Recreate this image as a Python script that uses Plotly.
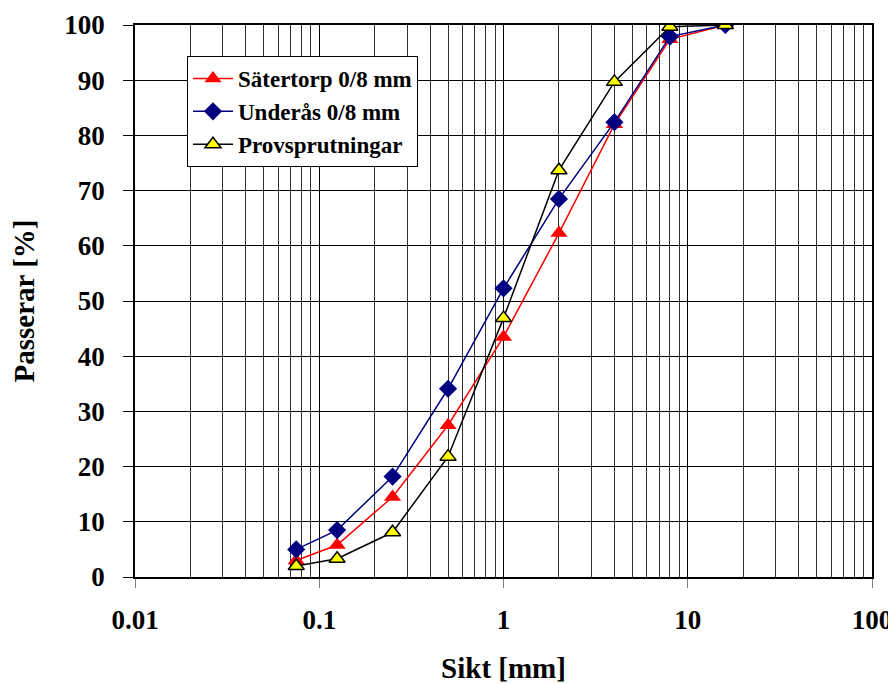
import plotly.graph_objects as go

sikt = [0.075, 0.125, 0.25, 0.5, 1, 2, 4, 8, 16]
satertorp = [3.0, 5.8, 14.5, 27.5, 43.5, 62.3, 82.0, 97.4, 100]
underas = [5.0, 8.5, 18.2, 34.1, 52.3, 68.5, 82.4, 97.9, 100]
provsprutningar = [2.0, 3.3, 8.1, 21.8, 46.9, 73.7, 89.7, 99.7, 100]

x_tickvals = [0.01, 0.1, 1, 10, 100]
x_ticktext = ["0.01", "0.1", "1", "10", "100"]
y_tickvals = list(range(0, 101, 10))

FONT = "Liberation Serif, Times New Roman, serif"

fig = go.Figure()
fig.add_trace(go.Scatter(
    x=sikt, y=satertorp, name="Sätertorp 0/8 mm", mode="lines+markers",
    line=dict(color="#ff0000", width=1.5),
    marker=dict(symbol="triangle-up", size=15, color="#ff0000", line=dict(width=0)),
))
fig.add_trace(go.Scatter(
    x=sikt, y=underas, name="Underås 0/8 mm", mode="lines+markers",
    line=dict(color="#000080", width=1.5),
    marker=dict(symbol="diamond", size=14, color="#000080", line=dict(width=0)),
))
fig.add_trace(go.Scatter(
    x=sikt, y=provsprutningar, name="Provsprutningar", mode="lines+markers",
    line=dict(color="#000000", width=1.5),
    marker=dict(symbol="triangle-up", size=14, color="#ffff00", line=dict(width=1.5, color="#000000")),
))

# The page body has an 8px margin, so the figure is 8px smaller and shifted.
fig.update_layout(
    width=888, height=676,
    margin=dict(l=127, r=24, t=17, b=107),
    paper_bgcolor="white", plot_bgcolor="white",
    font=dict(family=FONT, size=25, color="black"),
    showlegend=True,
    legend=dict(
        x=(187 - 135) / 737, y=(577 - 56) / 552, xanchor="left", yanchor="top",
        bgcolor="white", bordercolor="black", borderwidth=1,
        font=dict(family=FONT, size=23, color="black", weight="bold"),
        tracegroupgap=0, itemwidth=40,
    ),
    xaxis=dict(
        type="log", range=[-2, 2], automargin=False,
        tickvals=x_tickvals, ticktext=x_ticktext,
        tickfont=dict(family=FONT, size=27, weight="bold"),
        ticks="outside", ticklen=9, tickcolor="#808080", tickwidth=1,
        ticklabelstandoff=9,
        showgrid=True, gridcolor="black", gridwidth=1,
        minor=dict(dtick="D1", showgrid=True, gridcolor="#303030", gridwidth=1, ticks=""),
        showline=True, linecolor="black", linewidth=1.5, mirror=True,
        zeroline=False,
        title=dict(text="Sikt [mm]", font=dict(family=FONT, size=29, weight="bold"), standoff=36),
    ),
    yaxis=dict(
        range=[0, 100], tickvals=y_tickvals, automargin=False,
        tickfont=dict(family=FONT, size=27, weight="bold"),
        ticks="outside", ticklen=10, tickcolor="black", tickwidth=1,
        ticklabelstandoff=13,
        showgrid=True, gridcolor="black", gridwidth=1,
        showline=True, linecolor="black", linewidth=1.5, mirror=True,
        zeroline=False,
        title=dict(text="Passerar [%]", font=dict(family=FONT, size=29, weight="bold"), standoff=22),
    ),
)

fig.write_html("out.html")
